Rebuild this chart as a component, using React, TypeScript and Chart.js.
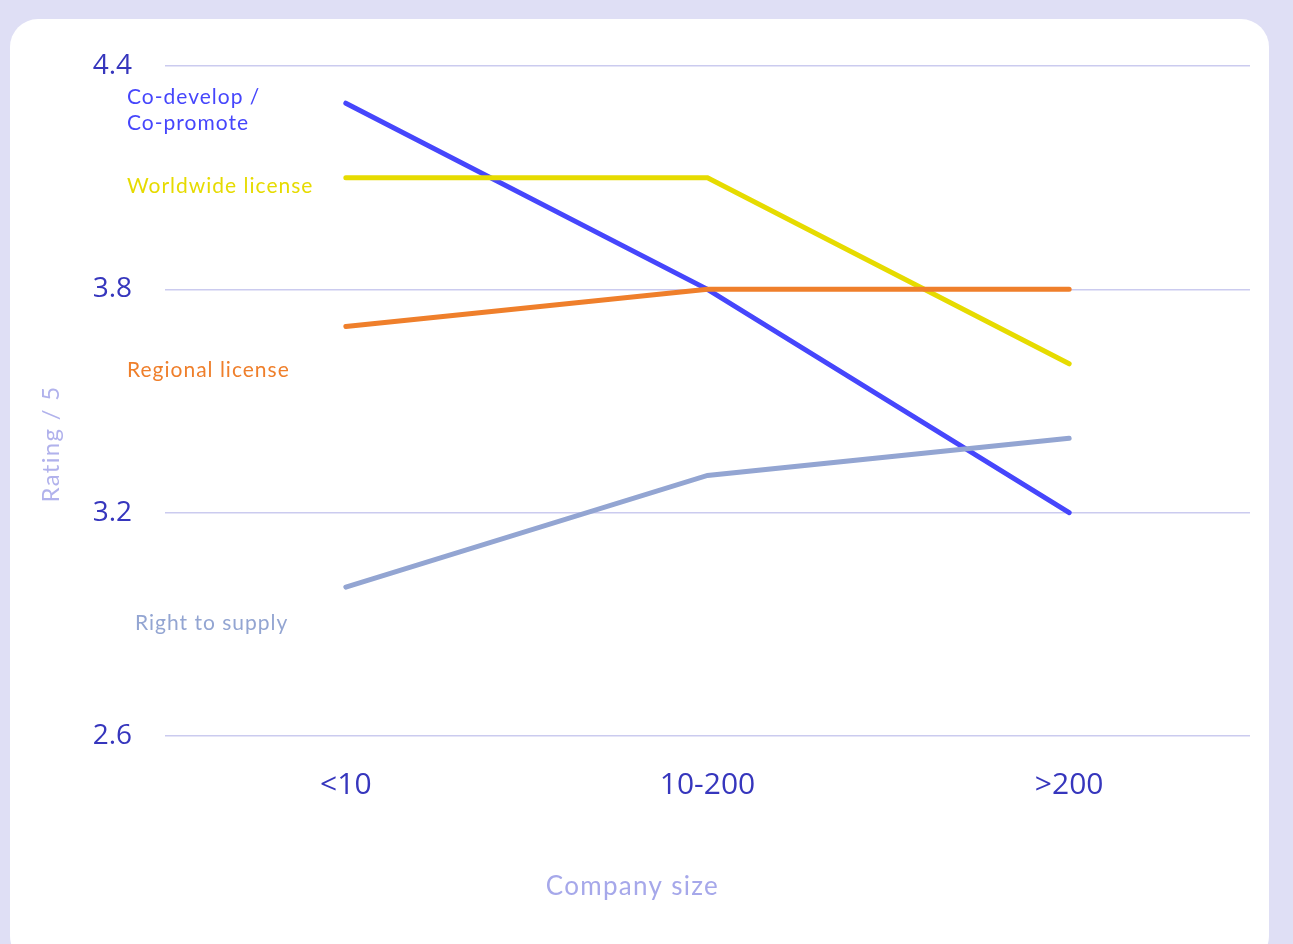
import React, { useEffect, useRef } from "react";
import { Chart, registerables } from "chart.js";

Chart.register(...registerables);

// Company size buckets on the x axis
const categories = ["<10", "10-200", ">200"];

// Average rating (out of 5) per deal type
const regionalLicense = [3.7, 3.8, 3.8];
const worldwideLicense = [4.1, 4.1, 3.6];
const rightToSupply = [3.0, 3.3, 3.4];
const coDevelop = [4.3, 3.8, 3.2];

// Y axis range and ticks
const yTicks = [2.6, 3.2, 3.8, 4.4];

const COLORS = {
  blue: "#4646fc",
  yellow: "#e6db00",
  orange: "#ef7f2b",
  slate: "#93a5d2",
  tick: "#3636bd",
  grid: "#cbcbef",
  axisTitle: "#a6a8ea",
  page: "#dfdff5",
};

// Series names written beside the left edge of the plot, anchored at a rating value
const seriesLabels = [
  { lines: ["Co-develop /", "Co-promote"], color: COLORS.blue, at: 4.317, x: 127 },
  { lines: ["Worldwide license"], color: COLORS.yellow, at: 4.078, x: 127 },
  { lines: ["Regional license"], color: COLORS.orange, at: 3.582, x: 127 },
  { lines: ["Right to supply"], color: COLORS.slate, at: 2.903, x: 135 },
];

const LABEL_FONT = "400 21px Lato, 'Noto Sans', sans-serif";
const TITLE_FONT = "400 26px Lato, 'Noto Sans', sans-serif";

const annotations = {
  id: "annotations",
  afterDraw(chart: any) {
    const { ctx } = chart;
    const y = chart.scales.y;
    ctx.save();
    ctx.textBaseline = "middle";
    ctx.textAlign = "left";
    ctx.font = LABEL_FONT;
    (ctx as any).letterSpacing = "1px";
    for (const lab of seriesLabels) {
      const py = y.getPixelForValue(lab.at);
      ctx.fillStyle = lab.color;
      lab.lines.forEach((line: string, i: number) => {
        ctx.fillText(line, lab.x, py + i * 26);
      });
    }
    // axis titles
    ctx.fillStyle = COLORS.axisTitle;
    ctx.font = TITLE_FONT;
    (ctx as any).letterSpacing = "1.3px";
    ctx.textAlign = "center";
    ctx.fillText("Company size", chart.width / 2 - 14, 887);
    ctx.translate(51, 444);
    ctx.rotate(-Math.PI / 2);
    ctx.fillStyle = "#b1b2ec";
    ctx.font = "400 24px Lato, 'Noto Sans', sans-serif";
    ctx.fillText("Rating / 5", 0, 0);
    ctx.restore();
  },
};

const line = (label: string, data: number[], color: string) => ({
  label,
  data,
  borderColor: color,
  backgroundColor: color,
  borderWidth: 5,
  pointRadius: 0,
  pointHoverRadius: 0,
  tension: 0,
  borderCapStyle: "round" as const,
  borderJoinStyle: "miter" as const,
  fill: false,
});

export default function App() {
  const canvasRef = useRef<HTMLCanvasElement | null>(null);

  useEffect(() => {
    const canvas = canvasRef.current;
    if (!canvas) return;
    const chart = new Chart(canvas, {
      type: "line",
      data: {
        labels: categories,
        datasets: [
          line("Regional license", regionalLicense, COLORS.orange),
          line("Worldwide license", worldwideLicense, COLORS.yellow),
          line("Right to supply", rightToSupply, COLORS.slate),
          line("Co-develop / Co-promote", coDevelop, COLORS.blue),
        ],
      },
      options: {
        animation: false,
        responsive: false,
        maintainAspectRatio: false,
        layout: { padding: { top: 66, right: 43, bottom: 0, left: 0 } },
        plugins: {
          legend: { display: false },
          tooltip: { enabled: false },
          title: { display: false },
        },
        scales: {
          x: {
            type: "category",
            offset: true,
            grid: { display: false, drawTicks: false },
            border: { display: false },
            ticks: {
              color: COLORS.tick,
              padding: 31,
              font: { family: "'Open Sans', 'Noto Sans', sans-serif", size: 30 },
              maxRotation: 0,
            },
            afterFit(scale: any) {
              scale.height = 208;
            },
          },
          y: {
            type: "linear",
            min: 2.6,
            max: 4.4,
            afterBuildTicks(scale: any) {
              scale.ticks = yTicks.map((v) => ({ value: v }));
            },
            grid: { color: COLORS.grid, lineWidth: 1.5, drawTicks: false },
            border: { display: false },
            ticks: {
              color: COLORS.tick,
              padding: 33,
              font: { family: "'Open Sans', 'Noto Sans', sans-serif", size: 28 },
              callback: (v: any) => Number(v).toFixed(1),
            },
            afterFit(scale: any) {
              scale.width = 165;
            },
          },
        },
      },
      plugins: [annotations],
    });
    return () => chart.destroy();
  }, []);

  return (
    <div style={{ position: "fixed", inset: 0, background: COLORS.page, overflow: "hidden" }}>
      <div
        style={{
          position: "absolute",
          left: 10,
          top: 19,
          width: 1259,
          height: 945,
          background: "#ffffff",
          borderRadius: 28,
        }}
      />
      <canvas
        ref={canvasRef}
        width={1293}
        height={944}
        style={{ position: "absolute", left: 0, top: 0, width: 1293, height: 944 }}
      />
    </div>
  );
}
